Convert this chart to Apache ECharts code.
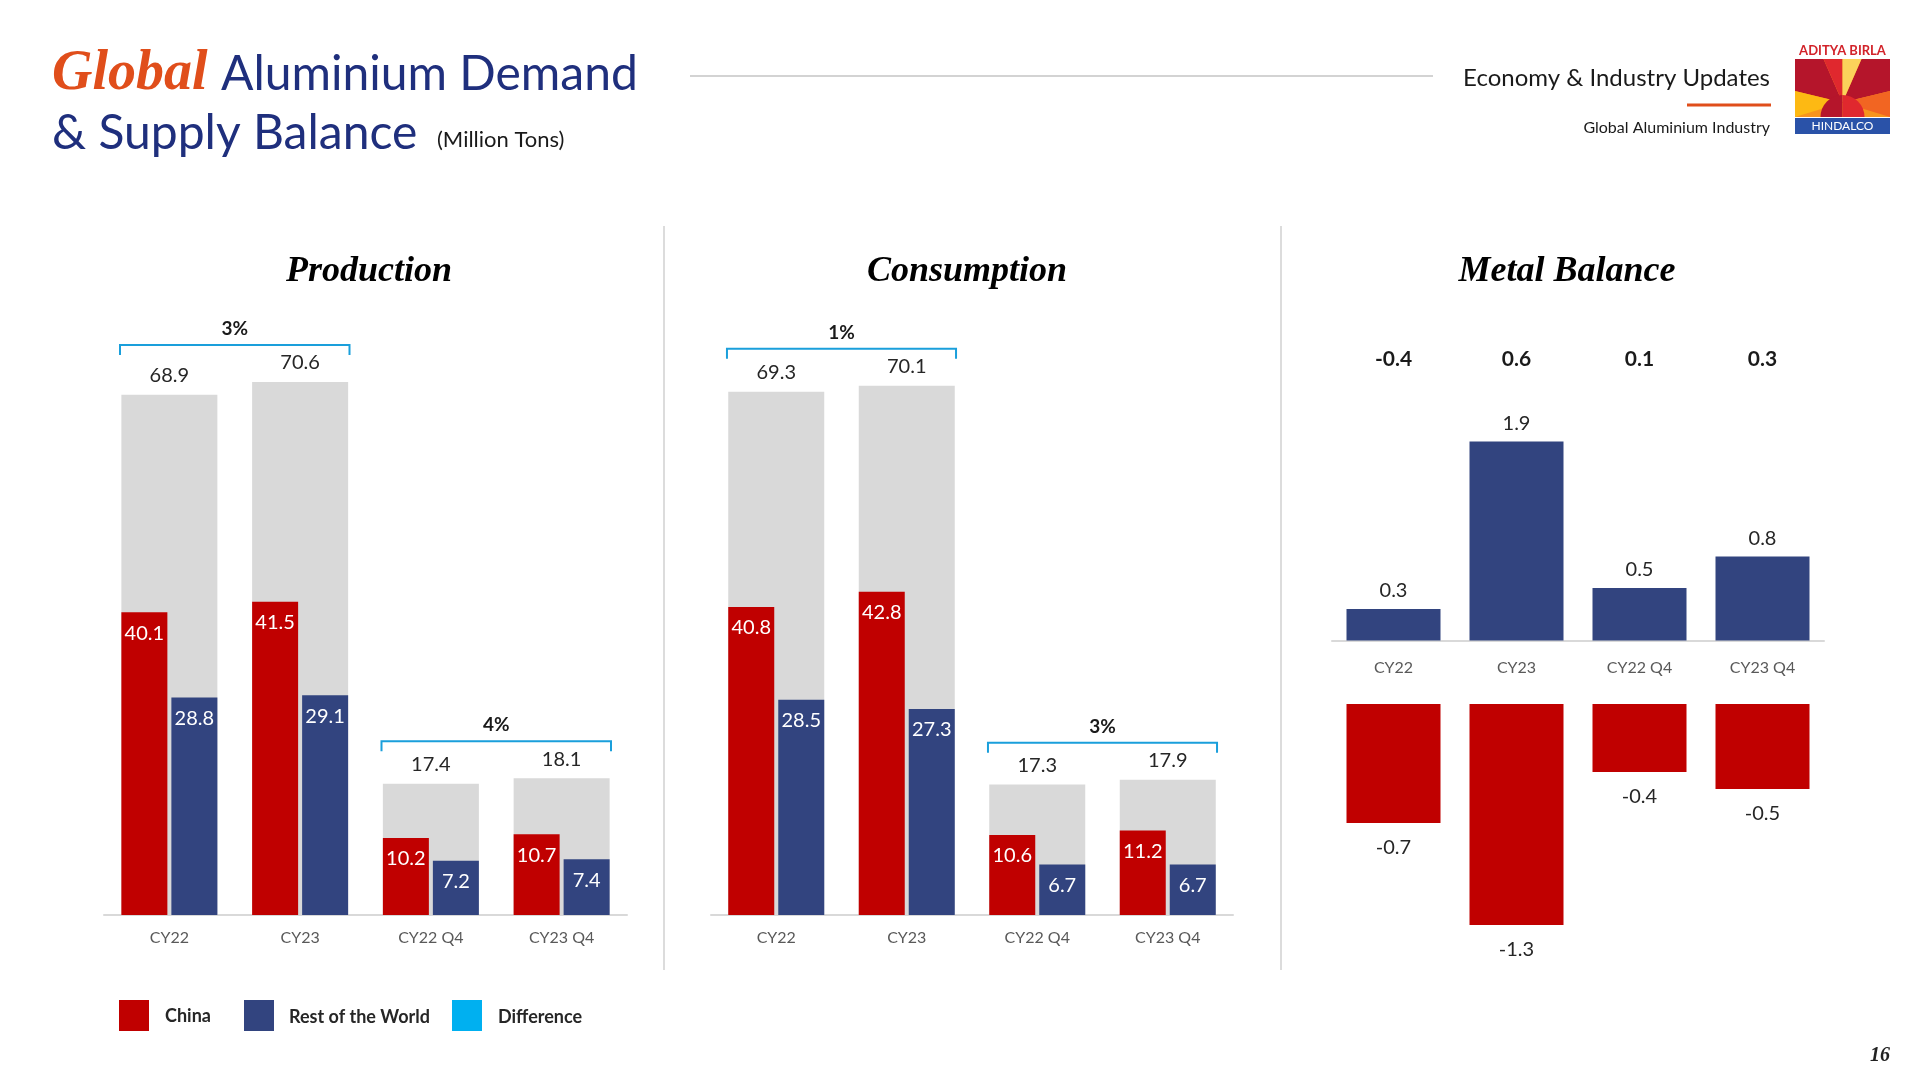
<!DOCTYPE html>
<html lang="en">
<head>
    <meta charset="UTF-8">
    <title>Global Aluminium Demand &amp; Supply Balance</title>
    <script src="https://cdn.jsdelivr.net/npm/echarts@6.0.0/dist/echarts.min.js"></script>
    <style>
        html, body { margin: 0; padding: 0; background: #fff; }
        #chart { width: 1920px; height: 1080px; }
    </style>
</head>
<body>
    <div id="chart"></div>

    <script>
        // data (million tons)
        const categories = ['CY22', 'CY23', 'CY22 Q4', 'CY23 Q4'];

        const prodTotal = [68.9, 70.6, 17.4, 18.1];
        const prodChina = [40.1, 41.5, 10.2, 10.7];
        const prodRow = [28.8, 29.1, 7.2, 7.4];
        const prodGrowth = ['3%', '4%'];

        const consTotal = [69.3, 70.1, 17.3, 17.9];
        const consChina = [40.8, 42.8, 10.6, 11.2];
        const consRow = [28.5, 27.3, 6.7, 6.7];
        const consGrowth = ['1%', '3%'];

        const balTotal = [-0.4, 0.6, 0.1, 0.3];
        const balRow = [0.3, 1.9, 0.5, 0.8];
        const balChina = [-0.7, -1.3, -0.4, -0.5];

        // which categories each growth bracket joins
        const growthPairs = [[0, 1], [2, 3]];

        const RED = '#C00000';
        const NAVY = '#32447F';
        const GREY = '#D9D9D9';
        const CYAN = '#1A9FDB';
        const SANS = 'Lato, "Open Sans", sans-serif';
        const SERIF = '"Liberation Serif", "DejaVu Serif", serif';

        const chart = echarts.init(document.getElementById('chart'));

        function bracketData(totals) {
            return growthPairs.map(p => [p[0], p[1], Math.max(totals[p[0]], totals[p[1]])]);
        }

        function makeBracket(labels) {
            return function (params, api) {
                const top = api.value(2);
                const p0 = api.coord([api.value(0), top]);
                const p1 = api.coord([api.value(1), top]);
                const half = api.size([1, 0])[0] * 0.37 + 1;
                const x0 = p0[0] - half;
                const x1 = p1[0] + half;
                const y = p0[1] - 37;
                return {
                    type: 'group',
                    children: [
                        {
                            type: 'polyline',
                            shape: { points: [[x0, y + 10], [x0, y], [x1, y], [x1, y + 10]] },
                            style: { stroke: CYAN, lineWidth: 2, fill: null }
                        },
                        {
                            type: 'text',
                            style: {
                                text: labels[params.dataIndex],
                                x: (x0 + x1) / 2, y: y - 16,
                                textAlign: 'center', textVerticalAlign: 'middle',
                                font: 'bold 19px ' + SANS, fill: '#1a1a1a'
                            }
                        }
                    ]
                };
            };
        }

        function catAxis(gridIndex, show, margin) {
            return {
                type: 'category', gridIndex: gridIndex, data: categories,
                show: show,
                axisLine: { show: true, lineStyle: { color: GREY, width: 2 } },
                axisTick: { show: false },
                axisLabel: { color: '#595959', fontSize: 16, fontFamily: SANS, margin: margin || 15 }
            };
        }

        function valAxis(gridIndex, min, max) {
            return { type: 'value', gridIndex: gridIndex, min: min, max: max, show: false, splitLine: { show: false } };
        }

        function totalBar(data, xi, yi) {
            return {
                type: 'bar', data: data, xAxisIndex: xi, yAxisIndex: yi, barWidth: 96,
                itemStyle: { color: GREY },
                label: { show: true, position: 'top', distance: 9, color: '#262626', fontSize: 20, fontFamily: SANS },
                z: 1
            };
        }

        function partBar(data, color, xi, yi) {
            return {
                type: 'bar', data: data, xAxisIndex: xi, yAxisIndex: yi, barWidth: 46, barGap: '8.7%',
                itemStyle: { color: color },
                label: { show: true, position: 'insideTop', distance: 11, color: '#fff', fontSize: 20, fontFamily: SANS },
                z: 3
            };
        }

        const logoX = 1795, logoY = 59, logoW = 95, logoH = 58;
        function lp(u, v) { return [logoX + u * logoW, logoY + v * logoH]; }

        chart.setOption({
            animation: false,
            textStyle: { fontFamily: SANS },
            grid: [
                { left: 104, width: 523, top: 311, height: 604 },
                { left: 711, width: 522, top: 311, height: 604 },
                { left: 1332, width: 492, top: 378.6, height: 261.8 },
                { left: 1332, width: 492, top: 704, height: 255 }
            ],
            xAxis: [
                catAxis(0, true),
                catAxis(0, false),
                catAxis(1, true),
                catAxis(1, false),
                catAxis(2, true, 19),
                {
                    type: 'category', gridIndex: 2, position: 'top',
                    data: balTotal.map(v => v.toFixed(1)),
                    axisLine: { show: false }, axisTick: { show: false },
                    axisLabel: { color: '#1a1a1a', fontSize: 21, fontWeight: 'bold', fontFamily: SANS, margin: 9 }
                },
                catAxis(3, false)
            ],
            yAxis: [
                valAxis(0, 0, 80),
                valAxis(1, 0, 80),
                valAxis(2, 0, 2.5),
                valAxis(3, -1.5, 0)
            ],
            series: [
                // production
                totalBar(prodTotal, 0, 0),
                partBar(prodChina, RED, 1, 0),
                partBar(prodRow, NAVY, 1, 0),
                {
                    type: 'custom', xAxisIndex: 0, yAxisIndex: 0,
                    data: bracketData(prodTotal), encode: { x: [0, 1], y: 2 },
                    renderItem: makeBracket(prodGrowth), z: 5
                },
                // consumption
                totalBar(consTotal, 2, 1),
                partBar(consChina, RED, 3, 1),
                partBar(consRow, NAVY, 3, 1),
                {
                    type: 'custom', xAxisIndex: 2, yAxisIndex: 1,
                    data: bracketData(consTotal), encode: { x: [0, 1], y: 2 },
                    renderItem: makeBracket(consGrowth), z: 5
                },
                // metal balance
                {
                    type: 'bar', data: balRow, xAxisIndex: 4, yAxisIndex: 2, barWidth: 94,
                    itemStyle: { color: NAVY },
                    label: { show: true, position: 'top', distance: 8, color: '#262626', fontSize: 20, fontFamily: SANS }
                },
                {
                    type: 'bar', data: balChina, xAxisIndex: 6, yAxisIndex: 3, barWidth: 94,
                    itemStyle: { color: RED },
                    label: { show: true, position: 'bottom', distance: 15, color: '#262626', fontSize: 20, fontFamily: SANS }
                }
            ],
            graphic: [
                // header
                { type: 'text', style: { text: 'Global', x: 52, y: 75, textVerticalAlign: 'middle', font: 'italic bold 56px ' + SERIF, fill: '#E04E1B' } },
                { type: 'text', style: { text: 'Aluminium Demand', x: 221, y: 75, textVerticalAlign: 'middle', font: '48px ' + SANS, fill: '#1F2F7D' } },
                { type: 'text', style: { text: '& Supply Balance', x: 52, y: 134, textVerticalAlign: 'middle', font: '48px ' + SANS, fill: '#1F2F7D' } },
                { type: 'text', style: { text: '(Million Tons)', x: 437, y: 140, textVerticalAlign: 'middle', font: '22px ' + SANS, fill: '#1a1a1a' } },
                { type: 'line', shape: { x1: 690, y1: 76, x2: 1433, y2: 76 }, style: { stroke: '#C4C4C4', lineWidth: 1.5 } },
                { type: 'text', style: { text: 'Economy & Industry Updates', x: 1770, y: 78, textAlign: 'right', textVerticalAlign: 'middle', font: '24px ' + SANS, fill: '#1a1a1a' } },
                { type: 'line', shape: { x1: 1687, y1: 105, x2: 1771, y2: 105 }, style: { stroke: '#E04E1B', lineWidth: 3 } },
                { type: 'text', style: { text: 'Global Aluminium Industry', x: 1770, y: 128, textAlign: 'right', textVerticalAlign: 'middle', font: '16px ' + SANS, fill: '#1a1a1a' } },

                // logo
                { type: 'text', style: { text: 'ADITYA BIRLA', x: logoX + logoW / 2, y: 51, textAlign: 'center', textVerticalAlign: 'middle', font: 'bold 13px ' + SANS, fill: '#D2232A' } },
                { type: 'rect', shape: { x: logoX, y: logoY, width: logoW, height: logoH }, style: { fill: '#F7941D' } },
                { type: 'polygon', shape: { points: [lp(0, 0), lp(0.3, 0), lp(0.5, 0.75), lp(0, 0.55)] }, style: { fill: '#B5152B' } },
                { type: 'polygon', shape: { points: [lp(1, 0), lp(0.7, 0), lp(0.5, 0.75), lp(1, 0.55)] }, style: { fill: '#B5152B' } },
                { type: 'polygon', shape: { points: [lp(0.3, 0), lp(0.5, 0), lp(0.5, 0.75)] }, style: { fill: '#E0282E' } },
                { type: 'polygon', shape: { points: [lp(0.5, 0), lp(0.7, 0), lp(0.5, 0.75)] }, style: { fill: '#FBD25B' } },
                { type: 'polygon', shape: { points: [lp(0, 0.55), lp(0.5, 0.75), lp(0, 1)] }, style: { fill: '#FDB913' } },
                { type: 'polygon', shape: { points: [lp(1, 0.55), lp(0.5, 0.75), lp(1, 1)] }, style: { fill: '#F26522' } },
                { type: 'sector', shape: { cx: logoX + logoW / 2, cy: logoY + logoH, r: 22, startAngle: Math.PI, endAngle: Math.PI * 1.5 }, style: { fill: '#B5152B' } },
                { type: 'sector', shape: { cx: logoX + logoW / 2, cy: logoY + logoH, r: 22, startAngle: Math.PI * 1.5, endAngle: Math.PI * 2 }, style: { fill: '#E0282E' } },
                { type: 'rect', shape: { x: logoX, y: 118, width: logoW, height: 16 }, style: { fill: '#2A52A8' } },
                { type: 'text', style: { text: 'HINDALCO', x: logoX + logoW / 2, y: 126, textAlign: 'center', textVerticalAlign: 'middle', font: '12px ' + SANS, fill: '#fff' } },

                // panel titles and separators
                { type: 'text', style: { text: 'Production', x: 369, y: 272, textAlign: 'center', textVerticalAlign: 'middle', font: 'italic bold 36px ' + SERIF, fill: '#000' } },
                { type: 'text', style: { text: 'Consumption', x: 967, y: 272, textAlign: 'center', textVerticalAlign: 'middle', font: 'italic bold 36px ' + SERIF, fill: '#000' } },
                { type: 'text', style: { text: 'Metal Balance', x: 1567, y: 272, textAlign: 'center', textVerticalAlign: 'middle', font: 'italic bold 36px ' + SERIF, fill: '#000' } },
                { type: 'line', shape: { x1: 664, y1: 226, x2: 664, y2: 970 }, style: { stroke: '#D0D0D0', lineWidth: 1.5 } },
                { type: 'line', shape: { x1: 1281, y1: 226, x2: 1281, y2: 970 }, style: { stroke: '#D0D0D0', lineWidth: 1.5 } },

                // legend
                { type: 'rect', shape: { x: 119, y: 1000, width: 30, height: 31 }, style: { fill: RED } },
                { type: 'text', style: { text: 'China', x: 165, y: 1016, textVerticalAlign: 'middle', font: 'bold 18px ' + SANS, fill: '#262626' } },
                { type: 'rect', shape: { x: 244, y: 1000, width: 30, height: 31 }, style: { fill: NAVY } },
                { type: 'text', style: { text: 'Rest of the World', x: 289, y: 1017, textVerticalAlign: 'middle', font: 'bold 18px ' + SANS, fill: '#262626' } },
                { type: 'rect', shape: { x: 452, y: 1000, width: 30, height: 31 }, style: { fill: '#00B0F0' } },
                { type: 'text', style: { text: 'Difference', x: 498, y: 1017, textVerticalAlign: 'middle', font: 'bold 18px ' + SANS, fill: '#262626' } },

                // page number
                { type: 'text', style: { text: '16', x: 1890, y: 1056, textAlign: 'right', textVerticalAlign: 'middle', font: 'italic bold 20px ' + SERIF, fill: '#222' } }
            ]
        });
    </script>
</body>
</html>
